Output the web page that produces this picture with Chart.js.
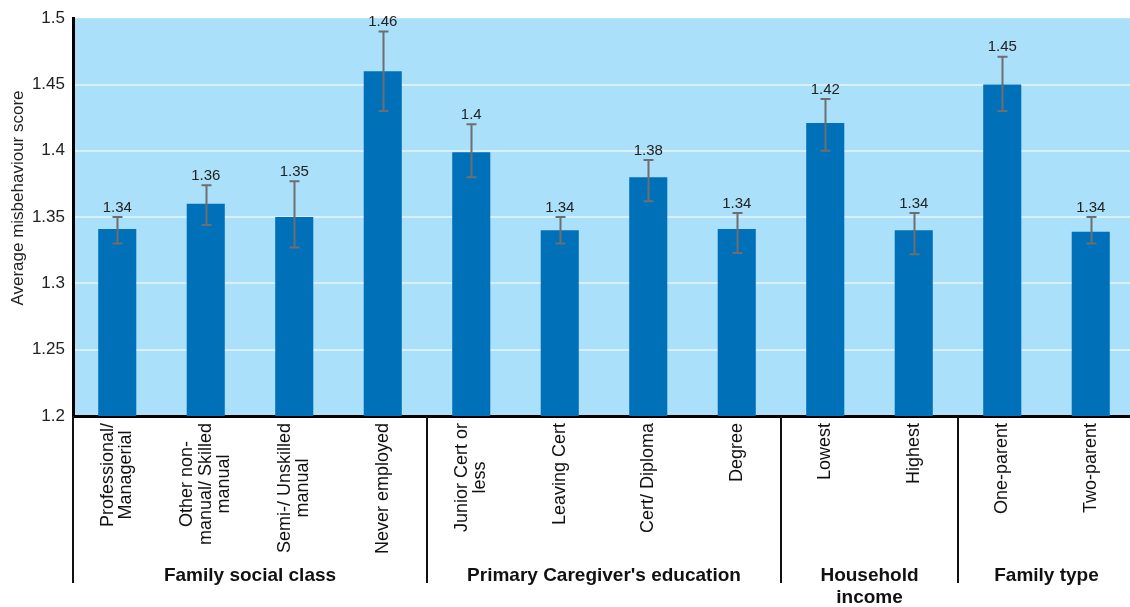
<!DOCTYPE html>
<html>
<head>
<meta charset="utf-8">
<script src="https://cdn.jsdelivr.net/npm/chart.js@4"></script>
<style>
  html, body { margin: 0; padding: 0; background: #fff; overflow: hidden; }
  /* plot runs a few pixels past the right edge, as in the source figure */
  #wrap { width: 1135px; height: 607px; position: relative; }
</style>
</head>
<body>
<div id="wrap"><canvas id="misbehaviourChart"></canvas></div>
<script>
// --- Data ---
const categories = [
    ['Professional/', 'Managerial'],
    ['Other non-', 'manual/ Skilled', 'manual'],
    ['Semi-/ Unskilled', 'manual'],
    ['Never employed'],
    ['Junior Cert or', 'less'],
    ['Leaving Cert'],
    ['Cert/ Diploma'],
    ['Degree'],
    ['Lowest'],
    ['Highest'],
    ['One-parent'],
    ['Two-parent']
];
const scores      = [1.341, 1.36, 1.35, 1.46, 1.399, 1.34, 1.38, 1.341, 1.421, 1.34, 1.45, 1.339];
const scoreLabels = ['1.34', '1.36', '1.35', '1.46', '1.4', '1.34', '1.38', '1.34', '1.42', '1.34', '1.45', '1.34'];
const errorLow    = [1.33, 1.344, 1.327, 1.43, 1.38, 1.33, 1.362, 1.323, 1.40, 1.322, 1.43, 1.33];
const errorHigh   = [1.35, 1.374, 1.377, 1.49, 1.42, 1.35, 1.393, 1.353, 1.439, 1.353, 1.471, 1.35];

const groupNames  = [['Family social class'], ["Primary Caregiver's education"], ['Household', 'income'], ['Family type']];
const groupFirst  = [0, 4, 8, 10];
const groupLast   = [3, 7, 9, 11];

const yTitle = 'Average misbehaviour score';
const FONT = "'Liberation Sans', Arial, Helvetica, sans-serif";

// --- Extra drawing: background, error bars, labels, group axis ---
const decorPlugin = {
    id: 'decor',
    beforeDraw(chart) {
        const { ctx, chartArea } = chart;
        ctx.save();
        ctx.fillStyle = '#aae0f9';
        ctx.fillRect(chartArea.left, chartArea.top, chartArea.right - chartArea.left, chartArea.bottom - chartArea.top);
        ctx.restore();
    },
    afterDatasetsDraw(chart) {
        const { ctx, chartArea } = chart;
        const x = chart.scales.x;
        const y = chart.scales.y;

        ctx.save();
        // error bars
        ctx.strokeStyle = '#6e6e6e';
        ctx.lineWidth = 2;
        errorLow.forEach((lo, i) => {
            const cx = Math.round(x.getPixelForValue(i)) + 0.5;
            const yLo = y.getPixelForValue(lo);
            const yHi = y.getPixelForValue(errorHigh[i]);
            ctx.beginPath();
            ctx.moveTo(cx, yLo); ctx.lineTo(cx, yHi);
            ctx.moveTo(cx - 5, yLo); ctx.lineTo(cx + 5, yLo);
            ctx.moveTo(cx - 5, yHi); ctx.lineTo(cx + 5, yHi);
            ctx.stroke();
        });

        // value labels above the error bars
        ctx.fillStyle = '#222';
        ctx.font = '15px ' + FONT;
        ctx.textAlign = 'center';
        ctx.textBaseline = 'bottom';
        scoreLabels.forEach((lbl, i) => {
            ctx.fillText(lbl, x.getPixelForValue(i), y.getPixelForValue(errorHigh[i]) - 2);
        });

        // rotated category labels, lines centred on each other, block starting at the axis
        ctx.font = '18px ' + FONT;
        ctx.fillStyle = '#111';
        const lh = 18.5;
        const labelTop = chartArea.bottom + 7;
        categories.forEach((lines, i) => {
            const cx = x.getPixelForValue(i);
            const blockW = Math.max(...lines.map(l => ctx.measureText(l).width));
            lines.forEach((line, j) => {
                const off = (j - (lines.length - 1) / 2) * lh;
                ctx.save();
                ctx.translate(cx + off, labelTop + blockW / 2);
                ctx.rotate(-Math.PI / 2);
                ctx.textAlign = 'center';
                ctx.textBaseline = 'middle';
                ctx.fillText(line, 0, 0);
                ctx.restore();
            });
        });

        // group separators
        ctx.strokeStyle = '#111';
        ctx.lineWidth = 2;
        const sepBottom = 583;
        const seps = [chartArea.left].concat(groupFirst.slice(1).map(g => x.getPixelForValue(g - 0.5)));
        seps.forEach(sx => {
            ctx.beginPath();
            ctx.moveTo(sx, chartArea.bottom);
            ctx.lineTo(sx, sepBottom);
            ctx.stroke();
        });

        // group names
        ctx.font = 'bold 19px ' + FONT;
        ctx.textAlign = 'center';
        ctx.textBaseline = 'alphabetic';
        groupNames.forEach((lines, g) => {
            const gx = (x.getPixelForValue(groupFirst[g] - 0.5) + x.getPixelForValue(groupLast[g] + 0.5)) / 2;
            lines.forEach((line, j) => {
                ctx.fillText(line, gx, 581 + j * 22);
            });
        });

        // y axis title
        ctx.font = '17px ' + FONT;
        ctx.fillStyle = '#222';
        ctx.translate(18, 198);
        ctx.rotate(-Math.PI / 2);
        ctx.textAlign = 'center';
        ctx.textBaseline = 'middle';
        ctx.fillText(yTitle, 0, 0);
        ctx.restore();
    }
};

// --- Chart ---
new Chart(document.getElementById('misbehaviourChart'), {
    type: 'bar',
    data: {
        labels: categories,
        datasets: [{
            label: yTitle,
            data: scores,
            backgroundColor: '#0070b8',
            borderWidth: 0,
            barPercentage: 0.43,
            categoryPercentage: 1.0
        }]
    },
    options: {
        responsive: true,
        maintainAspectRatio: false,
        animation: false,
        layout: { padding: { top: 15, right: 0, left: 0, bottom: 0 } },
        plugins: {
            legend: { display: false },
            tooltip: { enabled: false }
        },
        scales: {
            x: {
                ticks: { display: false },
                grid: { display: false, drawTicks: false },
                border: { display: true, color: '#000', width: 3 },
                afterFit: scale => { scale.height = 191; }
            },
            y: {
                min: 1.2,
                max: 1.5,
                ticks: {
                    stepSize: 0.05,
                    padding: 8,
                    color: '#222',
                    font: { family: FONT, size: 17 },
                    callback: value => String(parseFloat(value.toFixed(2)))
                },
                grid: {
                    drawTicks: false,
                    tickLength: 0,
                    lineWidth: 2,
                    color: ctx => (ctx.tick && ctx.tick.value >= 1.5 ? 'rgba(0,0,0,0)' : '#d6f0fc')
                },
                border: { display: true, color: '#000', width: 3 },
                afterFit: scale => { scale.width = 73; }
            }
        }
    },
    plugins: [decorPlugin]
});
</script>
</body>
</html>
